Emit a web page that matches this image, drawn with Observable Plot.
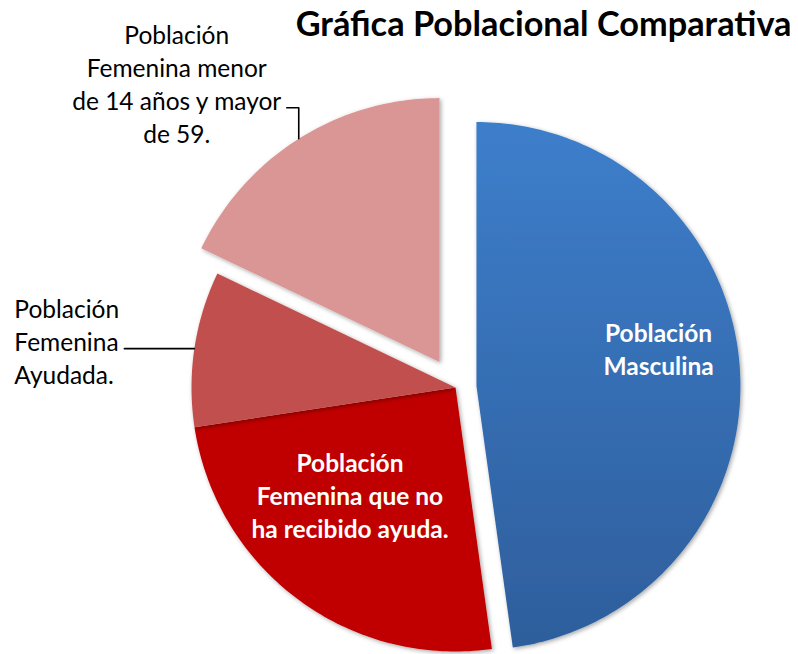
<!DOCTYPE html>
<html><head><meta charset="utf-8">
<script src="https://cdn.jsdelivr.net/npm/d3@7"></script>
<script src="https://cdn.jsdelivr.net/npm/@observablehq/plot@0.6"></script>
<style>body{margin:0;background:#fff;}</style>
</head><body><div id="chart"></div>
<script>
// ---- data ----
const title = "Gráfica Poblacional Comparativa";
const categories = [
  "Población Masculina",
  "Población Femenina que no ha recibido ayuda.",
  "Población Femenina Ayudada.",
  "Población Femenina menor de 14 años y mayor de 59."
];
const values = [47.8, 24.8, 9.5, 17.9];
const labels = [
  "Población\nMasculina",
  "Población\nFemenina que no\nha recibido ayuda.",
  "Población\nFemenina\nAyudada.",
  "Población\nFemenina menor\nde 14 años y mayor\nde 59."
];
const colors = ["url(#blueGrad)", "#C00000", "#C0504D", "#D99694"];

// ---- layout ----
const W = 798, H = 654, cx = 455, cy = 387, R = 264;
const explode = [21, 0, 0, 30];
const deg = Math.PI / 180;
const arcs = d3.pie().sort(null).value(d => d)(values);
const slices = arcs.map((a, i) => {
  const mid = (a.startAngle + a.endAngle) / 2;
  const ox = cx + explode[i] * Math.sin(mid), oy = cy - explode[i] * Math.cos(mid);
  const pts = [[ox, oy]];
  const n = Math.max(2, Math.ceil((a.endAngle - a.startAngle) / deg));
  for (let k = 0; k <= n; k++) {
    const t = a.startAngle + (a.endAngle - a.startAngle) * k / n;
    pts.push([ox + R * Math.sin(t), oy - R * Math.cos(t)]);
  }
  pts.push([ox, oy]);
  const edge = [ox + R * Math.sin(mid), oy - R * Math.cos(mid)];
  return {i, mid, ox, oy, pts, edge, label: labels[i], cat: categories[i]};
});

// inside labels: polar placement relative to slice origin
const inside = [
  {i: 0, da: -8 * deg, f: 0.705},
  {i: 1, da: 8 * deg, f: 0.568}
].map(({i, da, f}) => {
  const s = slices[i], t = s.mid + da;
  return {x: s.ox + f * R * Math.sin(t), y: s.oy - f * R * Math.cos(t), text: s.label};
});

// outside labels with leader lines
const sA = slices[2];
const leaderA = [sA.edge, [sA.edge[0] - 70, sA.edge[1]]];
const labelA = {x: leaderA[1][0] - 110, y: leaderA[1][1] - 8, text: sA.label};
const sP = slices[3];
const leaderP = [sP.edge, [sP.edge[0], sP.edge[1] - 31], [sP.edge[0] - 12, sP.edge[1] - 31]];
const labelP = {x: leaderP[2][0] - 110, y: leaderP[2][1] - 24.5, text: sP.label};

const font = "Lato, 'Open Sans', sans-serif";
const fs = 24.5, lh = 1.35;
const marks = [];
slices.forEach(s => {
  marks.push(Plot.line(s.pts, {x: d => d[0], y: d => d[1], fill: colors[s.i], stroke: "none", curve: "linear", title: () => s.cat}));
});
marks.push(
  Plot.line(leaderA, {x: d => d[0], y: d => d[1], stroke: "#000", strokeWidth: 1.6}),
  Plot.line(leaderP, {x: d => d[0], y: d => d[1], stroke: "#000", strokeWidth: 1.6}),
  Plot.text(inside, {x: "x", y: "y", text: "text", fill: "white", fontWeight: "bold", fontSize: fs, lineHeight: lh, lineAnchor: "middle", textAnchor: "middle"}),
  Plot.text([labelA], {x: "x", y: "y", text: "text", fill: "#000", fontSize: fs, lineHeight: lh, lineAnchor: "middle", textAnchor: "start"}),
  Plot.text([labelP], {x: "x", y: "y", text: "text", fill: "#000", fontSize: fs, lineHeight: lh, lineAnchor: "middle", textAnchor: "middle"}),
  Plot.text([title], {frameAnchor: "top-right", dx: -7, dy: 11, text: d => d, fill: "#000", fontWeight: "bold", fontSize: 34.3, lineAnchor: "top", textAnchor: "end"})
);

const svg = Plot.plot({
  width: W, height: H, margin: 0,
  style: {fontFamily: font, background: "white", overflow: "visible"},
  x: {domain: [0, W], range: [0, W], axis: null},
  y: {domain: [0, H], range: [0, H], axis: null},
  marks
});

// defs: gradient + shadow
const sel = d3.select(svg);
const defs = sel.insert("defs", ":first-child");
const g = defs.append("linearGradient").attr("id", "blueGrad").attr("x1", 0).attr("y1", 0).attr("x2", 0).attr("y2", 1);
g.append("stop").attr("offset", "0%").attr("stop-color", "#3D7ECB");
g.append("stop").attr("offset", "100%").attr("stop-color", "#2E5E9C");
const f = defs.append("filter").attr("id", "shadow").attr("x", "-10%").attr("y", "-10%").attr("width", "120%").attr("height", "120%");
f.append("feDropShadow").attr("dx", 1.5).attr("dy", 1.5).attr("stdDeviation", 2).attr("flood-color", "#000").attr("flood-opacity", 0.35);
sel.selectAll("g[aria-label='line']").filter((d, k) => k < slices.length).attr("filter", "url(#shadow)");

document.getElementById("chart").appendChild(svg);
</script>
</body></html>
